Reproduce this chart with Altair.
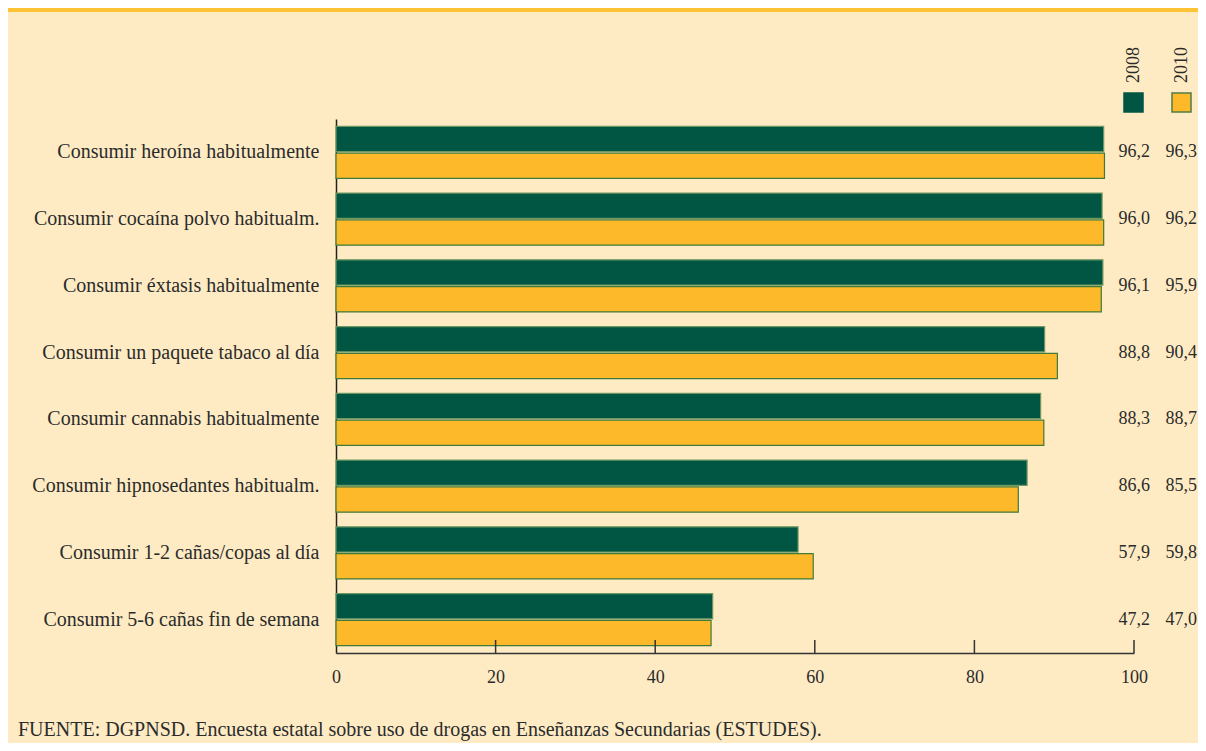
import altair as alt
import pandas as pd

categories = [
    "Consumir heroína habitualmente",
    "Consumir cocaína polvo habitualm.",
    "Consumir éxtasis habitualmente",
    "Consumir un paquete tabaco al día",
    "Consumir cannabis habitualmente",
    "Consumir hipnosedantes habitualm.",
    "Consumir 1-2 cañas/copas al día",
    "Consumir 5-6 cañas fin de semana",
]
years = ["2008", "2010"]
values_2008 = [96.2, 96.0, 96.1, 88.8, 88.3, 86.6, 57.9, 47.2]
values_2010 = [96.3, 96.2, 95.9, 90.4, 88.7, 85.5, 59.8, 47.0]
x_ticks = [0, 20, 40, 60, 80, 100]
source = "FUENTE: DGPNSD. Encuesta estatal sobre uso de drogas en Enseñanzas Secundarias (ESTUDES)."

rows = []
for c, a, b in zip(categories, values_2008, values_2010):
    rows.append({"cat": c, "year": "2008", "v": a, "lbl": f"{a:.1f}".replace(".", ",")})
    rows.append({"cat": c, "year": "2010", "v": b, "lbl": f"{b:.1f}".replace(".", ",")})
df = pd.DataFrame(rows)

W, H = 798, 534
FONT = "Liberation Serif"
TXT = "#2b2b2b"
BG = "#FEEBC4"
GREEN = "#005543"
YELLOW = "#FDB92A"

yscale = alt.Scale(domain=categories, paddingInner=0.22, paddingOuter=0.11)
xscale = alt.Scale(domain=[0, 100], nice=False)

bars = alt.Chart(df).mark_bar(strokeWidth=1.2).encode(
    x=alt.X("v:Q", scale=xscale,
            axis=alt.Axis(values=x_ticks, title=None, ticks=False, grid=False,
                          labelFont=FONT, labelFontSize=18, labelColor=TXT,
                          labelFlush=False,
                          labelPadding=15, domainColor="#333333", domainWidth=1.5)),
    y=alt.Y("cat:N", scale=yscale, sort=categories,
            axis=alt.Axis(title=None, ticks=False, labelFont=FONT, labelFontSize=20,
                          labelColor=TXT, labelPadding=17, domainColor="#222222",
                          domainWidth=1.5, labelLimit=400)),
    yOffset=alt.YOffset("year:N", scale=alt.Scale(domain=years, paddingInner=0.06)),
    color=alt.Color("year:N", scale=alt.Scale(domain=years, range=[GREEN, YELLOW]), legend=None),
    stroke=alt.Stroke("year:N", scale=alt.Scale(domain=years, range=["#6d9760", "#3f7a3a"]), legend=None),
)

tick_df = pd.DataFrame({"t": x_ticks[1:]})
ticks = alt.Chart(tick_df).mark_rule(color="#333333", strokeWidth=1.5).encode(
    x=alt.X("t:Q", scale=xscale),
    y=alt.value(H - 13),
    y2=alt.value(H),
)

def value_labels(year, xpos):
    return alt.Chart(df).transform_filter(alt.datum.year == year).mark_text(
        font=FONT, fontSize=18, color=TXT, align="right", baseline="middle"
    ).encode(
        y=alt.Y("cat:N", scale=yscale, sort=categories),
        x=alt.value(xpos),
        text="lbl:N",
    )

lab08 = value_labels("2008", 814)
lab10 = value_labels("2010", 861)

one = pd.DataFrame({"k": [0]})
band = alt.Chart(one).mark_rect(color="#FFC435").encode(
    x=alt.value(-330), x2=alt.value(W + 80), y=alt.value(-112), y2=alt.value(-107)
)

def legend_item(year, xc, fill, stroke):
    sq = alt.Chart(pd.DataFrame({"year": [year]})).mark_square(
        size=361, fill=fill, stroke=stroke, strokeWidth=1.5, opacity=1
    ).encode(x=alt.value(xc), y=alt.value(-16.5))
    tx = alt.Chart(pd.DataFrame({"year": [year]})).mark_text(
        font=FONT, fontSize=18, color=TXT, angle=270, align="left", baseline="middle"
    ).encode(x=alt.value(xc), y=alt.value(-36), text="year:N")
    return sq + tx

leg08 = legend_item("2008", 797.5, GREEN, GREEN)
leg10 = legend_item("2010", 845.5, YELLOW, "#4f7d45")

src = alt.Chart(one).mark_text(
    font=FONT, fontSize=20, color=TXT, align="left", baseline="alphabetic"
).encode(x=alt.value(-318), y=alt.value(617), text=alt.value(source))

chart = alt.layer(band, bars, ticks, lab08, lab10, leg08, leg10, src).properties(
    width=W, height=H,
    background=BG,
    padding={"left": 328, "top": 111, "right": 64, "bottom": 90},
    autosize=alt.AutoSizeParams(type="none"),
).configure_view(stroke=None)

chart.save("out.html", embed_options={"renderer": "svg", "actions": False})
